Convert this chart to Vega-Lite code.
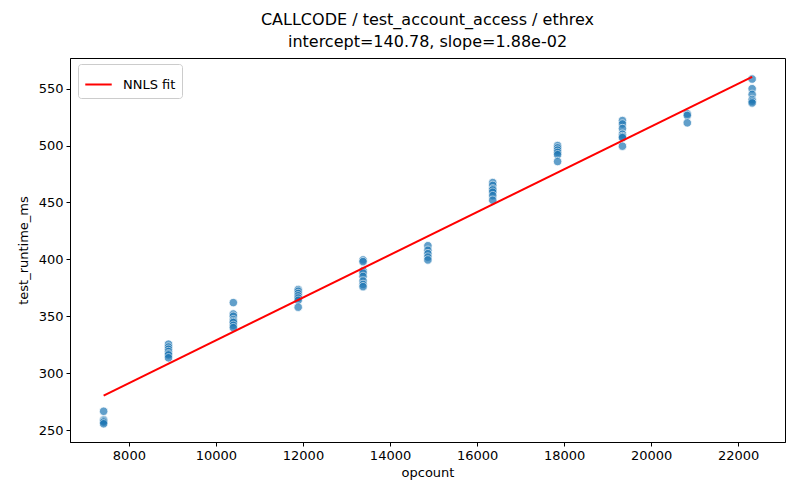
{
  "$schema": "https://vega.github.io/schema/vega-lite/v6.json",
  "autosize": {"type": "none"},
  "width": 715,
  "height": 384,
  "padding": {"left": 70, "top": 58, "right": 15, "bottom": 58},
  "title": {
    "text": ["CALLCODE / test_account_access / ethrex", "intercept=140.78, slope=1.88e-02"],
    "font": "DejaVu Sans",
    "fontSize": 16,
    "fontWeight": "normal",
    "color": "black",
    "lineHeight": 22,
    "offset": 8
  },
  "datasets": {
    "runs": [
      {"opcount": 7420, "test_runtime_ms": 266.5},
      {"opcount": 7420, "test_runtime_ms": 259},
      {"opcount": 7420, "test_runtime_ms": 258},
      {"opcount": 7420, "test_runtime_ms": 257},
      {"opcount": 7420, "test_runtime_ms": 255.5},
      {"opcount": 8910, "test_runtime_ms": 325.5},
      {"opcount": 8910, "test_runtime_ms": 323},
      {"opcount": 8910, "test_runtime_ms": 321},
      {"opcount": 8910, "test_runtime_ms": 319},
      {"opcount": 8910, "test_runtime_ms": 317},
      {"opcount": 8910, "test_runtime_ms": 316},
      {"opcount": 8910, "test_runtime_ms": 313.5},
      {"opcount": 10400, "test_runtime_ms": 362},
      {"opcount": 10400, "test_runtime_ms": 352},
      {"opcount": 10400, "test_runtime_ms": 350},
      {"opcount": 10400, "test_runtime_ms": 347},
      {"opcount": 10400, "test_runtime_ms": 345.5},
      {"opcount": 10400, "test_runtime_ms": 344.5},
      {"opcount": 10400, "test_runtime_ms": 342},
      {"opcount": 10400, "test_runtime_ms": 340},
      {"opcount": 11890, "test_runtime_ms": 373.5},
      {"opcount": 11890, "test_runtime_ms": 372},
      {"opcount": 11890, "test_runtime_ms": 370},
      {"opcount": 11890, "test_runtime_ms": 368},
      {"opcount": 11890, "test_runtime_ms": 366},
      {"opcount": 11890, "test_runtime_ms": 364},
      {"opcount": 11890, "test_runtime_ms": 358},
      {"opcount": 13380, "test_runtime_ms": 399.5},
      {"opcount": 13380, "test_runtime_ms": 398},
      {"opcount": 13380, "test_runtime_ms": 390},
      {"opcount": 13380, "test_runtime_ms": 388},
      {"opcount": 13380, "test_runtime_ms": 385},
      {"opcount": 13380, "test_runtime_ms": 381},
      {"opcount": 13380, "test_runtime_ms": 378},
      {"opcount": 13380, "test_runtime_ms": 376},
      {"opcount": 14870, "test_runtime_ms": 412},
      {"opcount": 14870, "test_runtime_ms": 408},
      {"opcount": 14870, "test_runtime_ms": 405},
      {"opcount": 14870, "test_runtime_ms": 402},
      {"opcount": 14870, "test_runtime_ms": 399.5},
      {"opcount": 16360, "test_runtime_ms": 467.5},
      {"opcount": 16360, "test_runtime_ms": 465},
      {"opcount": 16360, "test_runtime_ms": 462},
      {"opcount": 16360, "test_runtime_ms": 461},
      {"opcount": 16360, "test_runtime_ms": 459},
      {"opcount": 16360, "test_runtime_ms": 456},
      {"opcount": 16360, "test_runtime_ms": 452},
      {"opcount": 17850, "test_runtime_ms": 500},
      {"opcount": 17850, "test_runtime_ms": 498},
      {"opcount": 17850, "test_runtime_ms": 496},
      {"opcount": 17850, "test_runtime_ms": 494},
      {"opcount": 17850, "test_runtime_ms": 492},
      {"opcount": 17850, "test_runtime_ms": 486},
      {"opcount": 19340, "test_runtime_ms": 522},
      {"opcount": 19340, "test_runtime_ms": 519},
      {"opcount": 19340, "test_runtime_ms": 515},
      {"opcount": 19340, "test_runtime_ms": 510},
      {"opcount": 19340, "test_runtime_ms": 508},
      {"opcount": 19340, "test_runtime_ms": 507},
      {"opcount": 19340, "test_runtime_ms": 499.5},
      {"opcount": 20830, "test_runtime_ms": 528},
      {"opcount": 20830, "test_runtime_ms": 526.5},
      {"opcount": 20830, "test_runtime_ms": 520},
      {"opcount": 22320, "test_runtime_ms": 558.5},
      {"opcount": 22320, "test_runtime_ms": 550},
      {"opcount": 22320, "test_runtime_ms": 545},
      {"opcount": 22320, "test_runtime_ms": 540.5},
      {"opcount": 22320, "test_runtime_ms": 539},
      {"opcount": 22320, "test_runtime_ms": 537.5}
    ],
    "fit": [
      {"opcount": 7420, "test_runtime_ms": 280.28, "label": "NNLS fit"},
      {"opcount": 22320, "test_runtime_ms": 560.4, "label": "NNLS fit"}
    ]
  },
  "layer": [
    {
      "data": {"name": "runs"},
      "mark": {"type": "circle", "size": 72, "color": "#1f77b4", "opacity": 0.7, "stroke": "white", "strokeWidth": 0.8},
      "encoding": {
        "x": {
          "field": "opcount", "type": "quantitative", "title": "opcount",
          "scale": {"domain": [6647, 23075], "nice": false, "zero": false},
          "axis": {"values": [8000, 10000, 12000, 14000, 16000, 18000, 20000, 22000], "format": "d", "titlePadding": 4}
        },
        "y": {
          "field": "test_runtime_ms", "type": "quantitative", "title": "test_runtime_ms",
          "scale": {"domain": [239.5, 577], "nice": false, "zero": false},
          "axis": {"values": [250, 300, 350, 400, 450, 500, 550], "format": "d", "titlePadding": 8}
        }
      }
    },
    {
      "data": {"name": "fit"},
      "mark": {"type": "line", "strokeWidth": 2},
      "encoding": {
        "x": {"field": "opcount", "type": "quantitative"},
        "y": {"field": "test_runtime_ms", "type": "quantitative"},
        "color": {
          "field": "label",
          "type": "nominal",
          "scale": {"domain": ["NNLS fit"], "range": ["red"]},
          "legend": {
            "title": null,
            "orient": "none",
            "legendX": 8,
            "legendY": 6,
            "symbolType": "stroke",
            "symbolStrokeWidth": 2,
            "symbolSize": 700,
            "labelFont": "DejaVu Sans",
            "labelFontSize": 13,
            "labelColor": "black",
            "labelOffset": 10,
            "fillColor": "white",
            "strokeColor": "#cccccc",
            "padding": 6,
            "cornerRadius": 3
          }
        }
      }
    }
  ],
  "config": {
    "font": "DejaVu Sans",
    "view": {"stroke": "black", "strokeWidth": 1},
    "axis": {
      "grid": false,
      "domainColor": "black",
      "tickColor": "black",
      "tickSize": 4,
      "labelPadding": 3,
      "labelFont": "DejaVu Sans",
      "labelFontSize": 13,
      "labelColor": "black",
      "titleFont": "DejaVu Sans",
      "titleFontSize": 13,
      "titleFontWeight": "normal",
      "titleColor": "black"
    }
  }
}
